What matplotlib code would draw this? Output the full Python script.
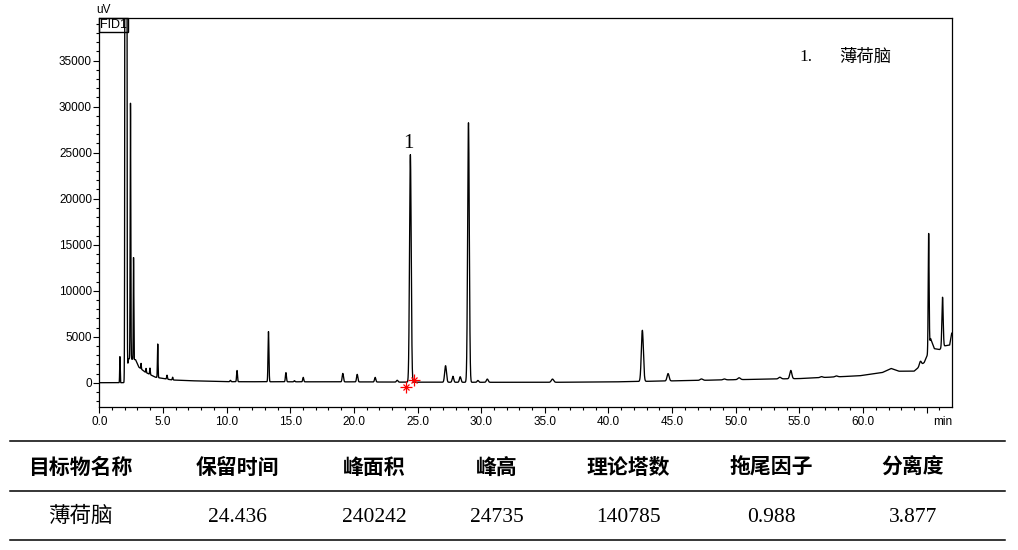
import numpy as np
import matplotlib.pyplot as plt
from matplotlib.lines import Line2D
from matplotlib.patches import Rectangle
from matplotlib.ticker import MultipleLocator, FixedLocator

# peak table: retention time (min), height above baseline (uV), sigma (min)
peak_rt = [1.62, 2.09, 2.45, 2.69, 3.28, 3.67, 3.98, 4.59, 5.32, 5.76,
           10.3, 10.82, 13.29, 14.66, 15.33, 16.02, 19.13, 20.26, 21.67, 23.4,
           24.436, 27.2, 27.78, 28.35, 29.0, 29.74, 30.48, 35.6, 42.66, 44.68,
           47.3, 49.1, 50.26, 53.46, 54.32, 56.73, 57.9, 64.5, 65.15, 66.24]
peak_height = [2830, 1.0e6, 27800, 11070, 600, 450, 700, 3650, 430, 300,
               150, 1220, 5450, 1000, 120, 480, 920, 820, 500, 200,
               24735, 1800, 650, 600, 28200, 200, 350, 350, 5550, 800,
               150, 100, 200, 180, 900, 100, 100, 500, 12500, 5450]
peak_sigma = [0.02, 0.036, 0.025, 0.02, 0.02, 0.02, 0.025, 0.025, 0.03, 0.03,
              0.04, 0.035, 0.035, 0.04, 0.04, 0.04, 0.05, 0.05, 0.05, 0.06,
              0.065, 0.07, 0.06, 0.06, 0.065, 0.06, 0.07, 0.09, 0.08, 0.08,
              0.1, 0.1, 0.1, 0.1, 0.08, 0.1, 0.1, 0.08, 0.035, 0.05]

# baseline / drift points
base_t = [0, 2.05, 2.3, 2.85, 3.1, 3.6, 4.4, 5.7, 7, 10, 20, 24, 27, 35, 40, 45,
          50, 55, 59.7, 61.5, 62.2, 62.8, 64.0, 64.4, 64.8, 65.05, 65.3, 65.6,
          66.0, 66.4, 66.8, 67.0]
base_v = [0, 0, 2600, 2500, 1700, 1150, 600, 300, 220, 110, 90, 60, 50, 40, 80, 200,
          330, 450, 750, 1100, 1550, 1250, 1250, 1700, 2200, 3000, 4800, 3700,
          3600, 4000, 4100, 5700]

# integration marks (red)
mark_t = [24.11, 24.76]
mark_v = [-430, 290]

x_ticks = [0, 5, 10, 15, 20, 25, 30, 35, 40, 45, 50, 55, 60, 65]
x_labels = ["0.0", "5.0", "10.0", "15.0", "20.0", "25.0", "30.0", "35.0", "40.0",
            "45.0", "50.0", "55.0", "60.0", ""]
y_ticks = [0, 5000, 10000, 15000, 20000, 25000, 30000, 35000]

headers = ["目标物名称", "保留时间", "峰面积", "峰高", "理论塔数", "拖尾因子", "分离度"]
row = ["薄荷脑", "24.436", "240242", "24735", "140785", "0.988", "3.877"]
col_x = [80, 237, 374, 497, 628, 771, 913]

t = np.linspace(0, 67, 26801)
signal = np.interp(t, base_t, base_v)
for rt, h, s in zip(peak_rt, peak_height, peak_sigma):
    signal = signal + h * np.exp(-0.5 * ((t - rt) / s) ** 2)

W, H = 1018, 550
fig = plt.figure(figsize=(W / 100, H / 100), dpi=100)
ax = fig.add_axes([99.3 / W, 1 - 407 / H, (951.7 - 99.3) / W, (407 - 18) / H])

ax.plot(t, signal, color="black", lw=0.95)
ax.plot(mark_t, mark_v, ls="none", marker="+", color="red", ms=8, mew=0.9)
ax.plot(mark_t, mark_v, ls="none", marker="x", color="red", ms=5, mew=0.9)

ax.set_xlim(0, 66.96)
ax.set_ylim(-2640, 39640)
ax.xaxis.set_major_locator(FixedLocator(x_ticks))
ax.set_xticklabels(x_labels)
ax.xaxis.set_minor_locator(MultipleLocator(1))
ax.yaxis.set_major_locator(FixedLocator(y_ticks))
ax.yaxis.set_minor_locator(MultipleLocator(1000))
ax.tick_params(which="major", length=4.5, width=0.8, labelsize=8.5, pad=2)
ax.tick_params(which="minor", length=2.2, width=0.8)
ax.tick_params(axis="y", pad=0.8)
for lab in ax.get_xticklabels() + ax.get_yticklabels():
    lab.set_fontfamily("Liberation Sans")
for sp in ax.spines.values():
    sp.set_linewidth(0.9)

ax.text(0.989, -0.022, "min", transform=ax.transAxes, ha="center", va="top",
        fontsize=8.5, family="Liberation Sans")
ax.text(-0.004, 1.005, "uV", transform=ax.transAxes, ha="left", va="bottom",
        fontsize=8.5, family="Liberation Sans")

# FID1 box
ax.add_patch(Rectangle((0, 1 - 14 / 389), 29 / 852.4, 14 / 389, transform=ax.transAxes,
                       fill=False, ec="black", lw=1.0, clip_on=False))
ax.text(14.5 / 852.4, 1 - 7 / 389, "FID1", transform=ax.transAxes, ha="center",
        va="center", fontsize=9, family="Liberation Sans")

# peak label and legend
ax.text(24.3, 26000, "1", ha="center", va="center", fontsize=15, family="Liberation Serif")
fig.text(806 / W, 1 - 57 / H, "1.", ha="center", va="center", fontsize=12.5,
         family="Liberation Serif")
fig.text(865 / W, 1 - 57 / H, "薄荷脑", ha="center", va="center", fontsize=12.5,
         family="Noto Sans CJK SC")

# table below the chart
for yl in [441, 491, 540]:
    fig.add_artist(Line2D([10 / W, 1005 / W], [1 - yl / H, 1 - yl / H],
                          color="black", lw=1.1))
for x, hd, val in zip(col_x, headers, row):
    fig.text(x / W, 1 - 467 / H, hd, ha="center", va="center", fontsize=15,
             fontweight="bold", family="Noto Sans CJK SC")
    fig.text(x / W, 1 - 517 / H, val, ha="center", va="center", fontsize=15.5,
             family=["Liberation Serif", "Noto Sans CJK SC"])

fig.savefig("out.png", dpi=100)
